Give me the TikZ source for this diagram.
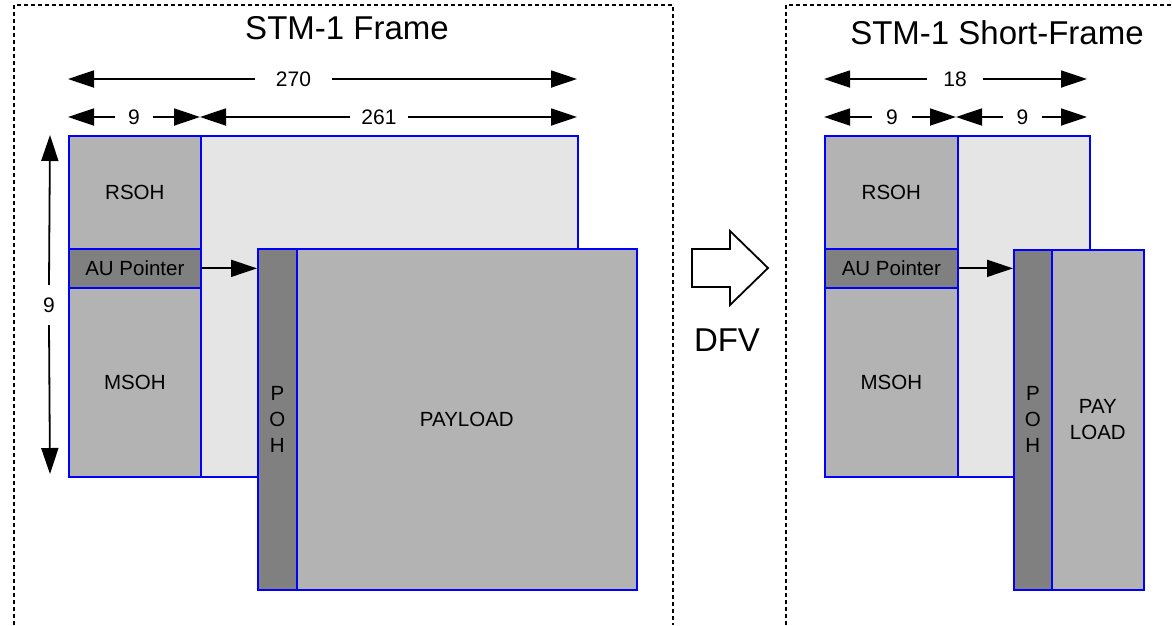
\documentclass[tikz,border=0pt]{standalone}
\usepackage{fontspec}
\setmainfont{Liberation Sans}
\usetikzlibrary{arrows.meta}
\definecolor{bgray}{RGB}{229,229,229}
\definecolor{mgray}{RGB}{179,179,179}
\definecolor{dgray}{RGB}{128,128,128}
\begin{document}
\begin{tikzpicture}[x=1pt,y=-1pt,
  box/.style={draw=blue,line width=1.7pt,inner sep=0pt,anchor=north west,
    font=\fontsize{20.5}{26}\selectfont,align=center},
  dim/.style={line width=1.8pt,-{Triangle[length=26pt,width=17pt]}},
  dimlbl/.style={inner sep=0pt,font=\fontsize{21}{25}\selectfont},
  frame/.style={line width=2.4pt,dash pattern=on 4pt off 3pt},
  title/.style={font=\fontsize{33}{38}\selectfont}]
\useasboundingbox (0,0) rectangle (1172,625);
% frames
\draw[frame] (14,625) -- (14,5) -- (673,5) -- (673,625);
\draw[frame] (786,625) -- (786,5) -- (1172,5);
\node[title] (t1) at (347,28) {STM-1 Frame};
\node[title] (t2) at (997,32.5) {STM-1 Short-Frame};
% ---------- left ----------
\coordinate (a1) at (68,79); \coordinate (a2) at (577,79);
\node[dimlbl,minimum width=77pt] (l270) at (293.5,79) {270};
\draw[dim] (l270.west) -- (a1); \draw[dim] (l270.east) -- (a2);
\coordinate (b1) at (68,117); \coordinate (b2) at (200,117); \coordinate (b3) at (577,117);
\node[dimlbl,minimum width=38pt] (l9a) at (134,117) {9};
\draw[dim] (l9a.west) -- (b1); \draw[dim] (l9a.east) -- (b2);
\node[dimlbl,minimum width=58pt] (l261) at (379,117) {261};
\draw[dim] (l261.west) -- (b2); \draw[dim] (l261.east) -- (b3);
\coordinate (v1) at (50,135); \coordinate (v2) at (50,474);
\node[dimlbl,minimum height=40pt] (l9v) at (49,305) {9};
\draw[dim] (l9v.north) -- (v1); \draw[dim] (l9v.south) -- (v2);
\node[box,fill=bgray,minimum width=509pt,minimum height=341pt] (bg1) at (68,135) {};
\node[box,fill=mgray,minimum width=132pt,minimum height=113pt] (rsoh1) at (68,135) {RSOH};
\node[box,fill=dgray,minimum width=132pt,minimum height=39pt] (au1) at (68,248) {AU Pointer};
\node[box,fill=mgray,minimum width=132pt,minimum height=189pt] (msoh1) at (68,287) {MSOH};
\node[box,fill=dgray,minimum width=39pt,minimum height=341pt] (poh1) at (257,248) {P\\O\\H};
\node[box,fill=mgray,minimum width=340pt,minimum height=341pt] (pay1) at (296,248) {PAYLOAD};
\draw[dim] (au1.east) -- (poh1.west |- au1.east);
% DFV arrow
\draw[line width=1.8pt,fill=white,line join=miter] (692,249) -- (730,249) -- (730,231) -- (768,268) -- (730,305) -- (730,287) -- (692,287) -- cycle;
\node[title] (dfv) at (727,340) {DFV};
% ---------- right ----------
\coordinate (c1) at (824,79); \coordinate (c2) at (1087,79);
\node[dimlbl,minimum width=56pt] (l18) at (955,79) {18};
\draw[dim] (l18.west) -- (c1); \draw[dim] (l18.east) -- (c2);
\coordinate (d1) at (824,117); \coordinate (d2) at (956,117); \coordinate (d3) at (1087,117);
\node[dimlbl,minimum width=40pt] (l9b) at (892,117) {9};
\draw[dim] (l9b.west) -- (d1); \draw[dim] (l9b.east) -- (d2);
\node[dimlbl,minimum width=39pt] (l9c) at (1022.5,117) {9};
\draw[dim] (l9c.west) -- (d2); \draw[dim] (l9c.east) -- (d3);
\node[box,fill=bgray,minimum width=265pt,minimum height=341pt] (bg2) at (824,135) {};
\node[box,fill=mgray,minimum width=133pt,minimum height=113pt] (rsoh2) at (824,135) {RSOH};
\node[box,fill=dgray,minimum width=133pt,minimum height=39pt] (au2) at (824,248) {AU Pointer};
\node[box,fill=mgray,minimum width=133pt,minimum height=189pt] (msoh2) at (824,287) {MSOH};
\node[box,fill=dgray,minimum width=38pt,minimum height=340pt] (poh2) at (1013,249) {P\\O\\H};
\node[box,fill=mgray,minimum width=92pt,minimum height=340pt] (pay2) at (1051,249) {PAY\\LOAD};
\draw[dim] (au2.east) -- (poh2.west |- au2.east);
\end{tikzpicture}
\end{document}
